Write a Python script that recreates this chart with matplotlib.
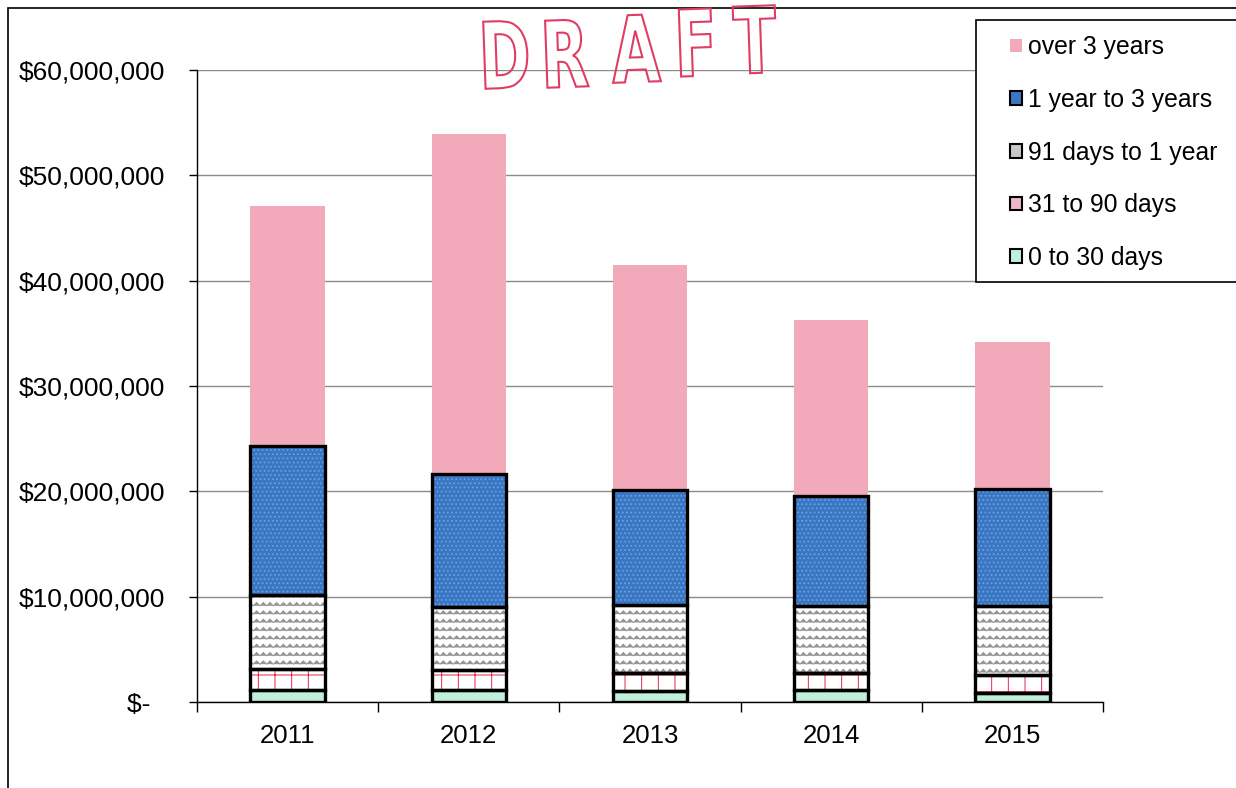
import numpy as np
import matplotlib
matplotlib.use("Agg")
import matplotlib.pyplot as plt
from matplotlib import hatch as mhatch
from matplotlib.path import Path
from matplotlib.patches import Patch, Rectangle, PathPatch
from matplotlib.textpath import TextPath
from matplotlib.font_manager import FontProperties
from matplotlib.transforms import Affine2D
from matplotlib.ticker import FuncFormatter

years = ["2011", "2012", "2013", "2014", "2015"]
days_0_30 = [1.10e6, 1.15e6, 1.05e6, 1.10e6, 0.90e6]
days_31_90 = [2.00e6, 1.90e6, 1.75e6, 1.70e6, 1.65e6]
days_91_1yr = [7.10e6, 6.00e6, 6.40e6, 6.30e6, 6.55e6]
yr_1_3 = [14.10e6, 12.55e6, 10.90e6, 10.50e6, 11.10e6]
over_3yr = [22.80e6, 32.30e6, 21.40e6, 16.70e6, 14.00e6]

W, H = 1236, 788


class WaveHatch(mhatch.HatchPatternBase):
    """Rows of small zigzags, drawn for the '*' hatch character."""
    rows = 12
    teeth = 15

    def __init__(self, hatch, density):
        self.num_lines = self.rows if "*" in hatch else 0
        self.num_vertices = self.num_lines * (2 * self.teeth + 1)

    def set_vertices_and_codes(self, vertices, codes):
        n = 2 * self.teeth + 1
        xs = np.linspace(0.0, 1.0, n)
        amp = 0.2 / self.rows
        wave = np.where(np.arange(n) % 2 == 1, amp, -amp)
        for i in range(self.rows):
            seg = slice(i * n, (i + 1) * n)
            vertices[seg, 0] = xs
            vertices[seg, 1] = (i + 0.5) / self.rows + wave
            codes[seg] = Path.LINETO
            codes[i * n] = Path.MOVETO


# swap the star hatch for the wave one
mhatch._hatch_types = [t for t in mhatch._hatch_types if t is not mhatch.Stars] + [WaveHatch]

plt.rcParams["font.family"] = ["Liberation Sans", "DejaVu Sans"]
plt.rcParams["font.size"] = 18
plt.rcParams["hatch.linewidth"] = 0.7

fig = plt.figure(figsize=(W / 100, H / 100), dpi=100)
ax = fig.add_axes([197 / W, 1 - 702 / H, (1103 - 197) / W, (702 - 70) / H])

# series: label, values, face, hatch, hatch colour, outlined
series = [
    ("0 to 30 days", days_0_30, "#bff0dc", None, "#bff0dc", True),
    ("31 to 90 days", days_31_90, "white", "+", "#e0284e", True),
    ("91 days to 1 year", days_91_1yr, "white", "*", "#959595", True),
    ("1 year to 3 years", yr_1_3, "#3a76c2", "....", "#6aa3e6", True),
    ("over 3 years", over_3yr, "#f2aabb", None, "#f2aabb", False),
]

x = np.arange(len(years))
width = 0.41
bottom = np.zeros(len(years))
for label, vals, face, hatch, hcol, outlined in series:
    vals = np.array(vals)
    ax.bar(x, vals, width, bottom=bottom, color=face, hatch=hatch,
           edgecolor=hcol, linewidth=0, zorder=2)
    if outlined:
        ax.bar(x, vals, width, bottom=bottom, fill=False,
               edgecolor="black", linewidth=2.4, zorder=3)
    bottom += vals

ax.set_ylim(0, 60e6)
ax.set_yticks(np.arange(0, 60e6 + 1, 10e6))
ax.yaxis.set_major_formatter(FuncFormatter(lambda v, _: f"${v:,.0f}" if v else "$-  "))
ax.yaxis.grid(True, color="#8c8c8c", linewidth=1.0)
ax.set_axisbelow(True)
ax.tick_params(axis="y", length=6, width=1, pad=17, labelsize=19)

ax.set_xlim(-0.5, len(years) - 0.5)
ax.set_xticks(x)
ax.set_xticklabels(years)
ax.set_xticks(np.arange(len(years) + 1) - 0.5, minor=True)
ax.tick_params(axis="x", which="major", length=0, pad=16, labelsize=18.5)
ax.tick_params(axis="x", which="minor", length=7, width=1)

for side in ["top", "right"]:
    ax.spines[side].set_visible(False)
ax.spines["left"].set_linewidth(1)
ax.spines["bottom"].set_linewidth(1)

# outer chart border
fig.add_artist(Rectangle((8 / W, -0.1), 1.2, 1.1 - 8 / H, fill=False,
                         edgecolor="black", linewidth=1.2))

# legend box
fig.add_artist(Rectangle((976 / W, 1 - 282 / H), (1250 - 976) / W, 262 / H,
                         facecolor="white", edgecolor="black", linewidth=1.2, zorder=4))
handles = [
    Patch(facecolor="#f2aabb", edgecolor="none"),
    Patch(facecolor="#3a76c2", edgecolor="black", linewidth=1.5),
    Patch(facecolor="#c9c9c9", edgecolor="black", linewidth=1.5),
    Patch(facecolor="#f0b8c6", edgecolor="black", linewidth=1.5),
    Patch(facecolor="#bff0dc", edgecolor="black", linewidth=1.5),
]
labels = [s[0] for s in series][::-1]
fig.legend(handles, labels, loc="upper left", bbox_to_anchor=(988 / W, 1 - 13 / H),
           frameon=False, fontsize=17.8, handlelength=0.48, handleheight=0.48,
           handletextpad=0.25, labelspacing=1.16, borderpad=0.4)

# hollow "DRAFT" stamp, letters squeezed horizontally
stamp_font = FontProperties(family="Liberation Sans Narrow", weight="bold")
stamp = [("D", 507, 88), ("R", 568, 87), ("A", 637, 82), ("F", 697, 76), ("T", 756, 73)]
for ch, px, py in stamp:
    tp = TextPath((0, 0), ch, size=92, prop=stamp_font)
    ext = tp.get_extents()
    t = (Affine2D().translate(-(ext.x0 + ext.x1) / 2, 0)
         .scale(0.68 / 100, 1.0 / 100).rotate_deg(2)
         .translate(px / 100, (H - py) / 100) + fig.dpi_scale_trans)
    fig.add_artist(PathPatch(tp, transform=t, facecolor="none",
                             edgecolor="#e03c64", linewidth=1.5, zorder=6))

fig.savefig("out.png", dpi=100)
